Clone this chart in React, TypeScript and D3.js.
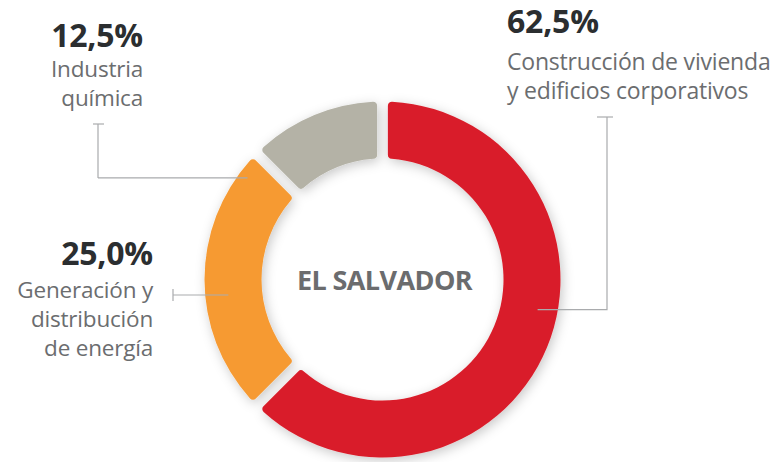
import { useEffect, useRef } from 'react';
import * as d3 from 'd3';

const sectors = ['Construcción de vivienda y edificios corporativos', 'Generación y distribución de energía', 'Industria química'];
const shares = [62.5, 25.0, 12.5];
const shareLabels = ['62,5%', '25,0%', '12,5%'];
const labelLines = [
    ['Construcción de vivienda', 'y edificios corporativos'],
    ['Generación y', 'distribución', 'de energía'],
    ['Industria', 'química'],
];
const colors = ['#d91f2b', '#f69a33', '#b4b2a6'];
const centerLabel = 'EL SALVADOR';

const App = () => {
    const svgRef = useRef<SVGSVGElement>(null);

    useEffect(() => {
        const svg = d3.select(svgRef.current);
        const width = 776;
        const height = 462;
        const cx = 382.5;
        const cy = 279.5;
        const outer = 178;
        const inner = 121;

        svg.selectAll('*').remove();

        const defs = svg.append('defs');
        const f = defs.append('filter')
            .attr('id', 'shadow')
            .attr('x', '-20%').attr('y', '-20%')
            .attr('width', '140%').attr('height', '140%');
        f.append('feDropShadow')
            .attr('dx', 2).attr('dy', 3)
            .attr('stdDeviation', 6)
            .attr('flood-color', '#000')
            .attr('flood-opacity', 0.22);

        const pie = d3.pie<number>().sort(null).value(d => d);
        const arc = d3.arc<d3.PieArcDatum<number>>()
            .innerRadius(inner)
            .outerRadius(outer)
            .padAngle(0.05)
            .cornerRadius(4);

        const g = svg.append('g').attr('transform', `translate(${cx},${cy})`);
        g.append('g')
            .attr('filter', 'url(#shadow)')
            .selectAll('path')
            .data(pie(shares))
            .join('path')
            .attr('d', arc)
            .attr('fill', (d, i) => colors[i]);

        g.append('text')
            .attr('x', 2)
            .attr('y', 10)
            .attr('text-anchor', 'middle')
            .style('font-family', 'Open Sans')
            .style('font-weight', 'bold')
            .style('font-size', '27px')
            .style('letter-spacing', '-0.6px')
            .attr('fill', '#6b6c6e')
            .text(centerLabel);

        // label layout per sector: text anchor point, leader path (polar end point on the ring)
        const layout = [
            { x: 507, y: 33, anchor: 'start', first: 37, size: 23, lead: [[597, 117], [613, 117], [607, 117], [607, 309]], endAngle: 101, endR: 158 },
            { x: 153, y: 265, anchor: 'end', first: 33, size: 22.5, lead: [[173, 289], [173, 301], [173, 295]], endAngle: 264, endR: 155 },
            { x: 143, y: 47, anchor: 'end', first: 30, size: 22.5, lead: [[93, 124], [104, 124], [98, 124], [98, 178]], endAngle: 307, endR: 169 },
        ];

        const line = d3.line();
        layout.forEach((l, i) => {
            const a = (l.endAngle * Math.PI) / 180;
            const end: [number, number] = [cx + l.endR * Math.sin(a), cy - l.endR * Math.cos(a)];
            const pts = l.lead as [number, number][];
            // tick cap
            svg.append('path')
                .attr('d', line([pts[0], pts[1]]))
                .attr('stroke', '#a9abad').attr('stroke-width', 1.2).attr('fill', 'none');
            const rest = pts.slice(2);
            const last = rest[rest.length - 1];
            const elbow: [number, number] = [last[0], end[1]];
            const path = i === 1 ? [rest[0], [end[0], rest[0][1]] as [number, number]] : [...rest, elbow, end];
            svg.append('path')
                .attr('d', line(path))
                .attr('stroke', '#a9abad').attr('stroke-width', 1.2).attr('fill', 'none');

            const t = svg.append('g').attr('data-sector', sectors[i]);
            t.append('text')
                .attr('x', l.x).attr('y', l.y)
                .attr('text-anchor', l.anchor)
                .style('font-family', 'Open Sans')
                .style('font-weight', 'bold')
                .style('font-size', '32px')
                .style('letter-spacing', '-0.2px')
                .attr('fill', '#2b2e30')
                .text(shareLabels[i]);
            labelLines[i].forEach((s, j) => {
                t.append('text')
                    .attr('x', l.x).attr('y', l.y + l.first + j * 29)
                    .attr('text-anchor', l.anchor)
                    .style('font-family', 'Open Sans')
                    .style('font-size', `${l.size}px`)
                    .style('letter-spacing', '-0.2px')
                    .attr('fill', '#6b6d6f')
                    .text(s);
            });
        });

        svg.attr('width', width).attr('height', height);
    }, []);

    return (
        <svg ref={svgRef} width="776" height="462"
            style={{ position: 'absolute', left: 0, top: 0, background: '#fff' }}></svg>
    );
};

export default App;
